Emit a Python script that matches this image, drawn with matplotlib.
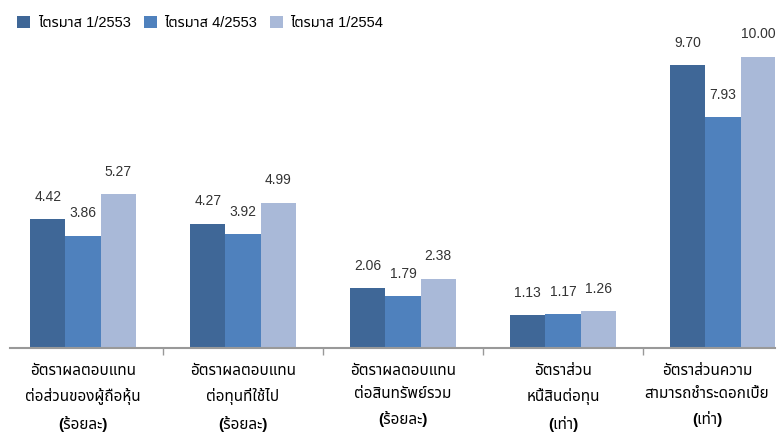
import matplotlib.pyplot as plt
from matplotlib import font_manager
import numpy as np

# pick a Thai-capable family among the installed ones
installed = {f.name for f in font_manager.fontManager.ttflist}
thai_font = next((n for n in ["Noto Sans Thai", "Noto Sans Thai Looped", "Sarabun",
                              "IBM Plex Sans Thai", "Anuphan", "Bai Jamjuree"]
                  if n in installed), "DejaVu Sans")
plt.rcParams['font.family'] = ['Liberation Sans', thai_font, 'DejaVu Sans']

categories = [
    "อัตราผลตอบแทน\nต่อส่วนของผู้ถือหุ้น\n(ร้อยละ)",
    "อัตราผลตอบแทน\nต่อทุนที่ใช้ไป\n(ร้อยละ)",
    "อัตราผลตอบแทน\nต่อสินทรัพย์รวม\n(ร้อยละ)",
    "อัตราส่วน\nหนี้สินต่อทุน\n(เท่า)",
    "อัตราส่วนความ\nสามารถชำระดอกเบี้ย\n(เท่า)",
]
series_names = ["ไตรมาส 1/2553", "ไตรมาส 4/2553", "ไตรมาส 1/2554"]
q1_2553 = [4.42, 4.27, 2.06, 1.13, 9.70]
q4_2553 = [3.86, 3.92, 1.79, 1.17, 7.93]
q1_2554 = [5.27, 4.99, 2.38, 1.26, 10.00]
colors = ["#3F6797", "#4F81BD", "#A9B9D8"]

fig = plt.figure(figsize=(7.84, 4.41), dpi=100)
ax = fig.add_axes([10 / 784, 1 - 348 / 441, 765 / 784, (348 - 45) / 441])

x = np.arange(len(categories))
w = 0.22
for i, (vals, name) in enumerate(zip([q1_2553, q4_2553, q1_2554], series_names)):
    pos = x + (i - 1) * w
    ax.bar(pos, vals, width=w, color=colors[i], label=name)
    for px, v in zip(pos, vals):
        ax.annotate(f"{v:.2f}", (px, v), xytext=(0, 11), textcoords="offset points",
                    ha="center", va="bottom", fontsize=10, color="#333333")

ax.set_xlim(-0.456, 4.325)
ax.set_ylim(0, 10.4)
for s in ["top", "right", "left"]:
    ax.spines[s].set_visible(False)
ax.spines["bottom"].set_color("#999999")
ax.spines["bottom"].set_linewidth(1.5)
ax.set_yticks([])
ax.set_xticks([0.5, 1.5, 2.5, 3.5])
ax.set_xticklabels([])
ax.tick_params(axis="x", direction="out", length=5, color="#999999", width=1)

# last label nudged left so it stays inside the figure
label_x = [0, 1, 2, 3, 3.9]
for xi, lab in zip(label_x, categories):
    ax.text(xi, -0.55, lab, ha="center", va="top", fontsize=11, fontweight="bold",
            linespacing=1.8, transform=ax.transData)

ax.legend(loc="upper left", bbox_to_anchor=(0.002, 1.115), ncol=3, frameon=False,
          fontsize=10.5, handlelength=0.9, handleheight=0.9, handletextpad=0.5,
          columnspacing=0.9, borderaxespad=0)

fig.savefig("out.png", dpi=100)
